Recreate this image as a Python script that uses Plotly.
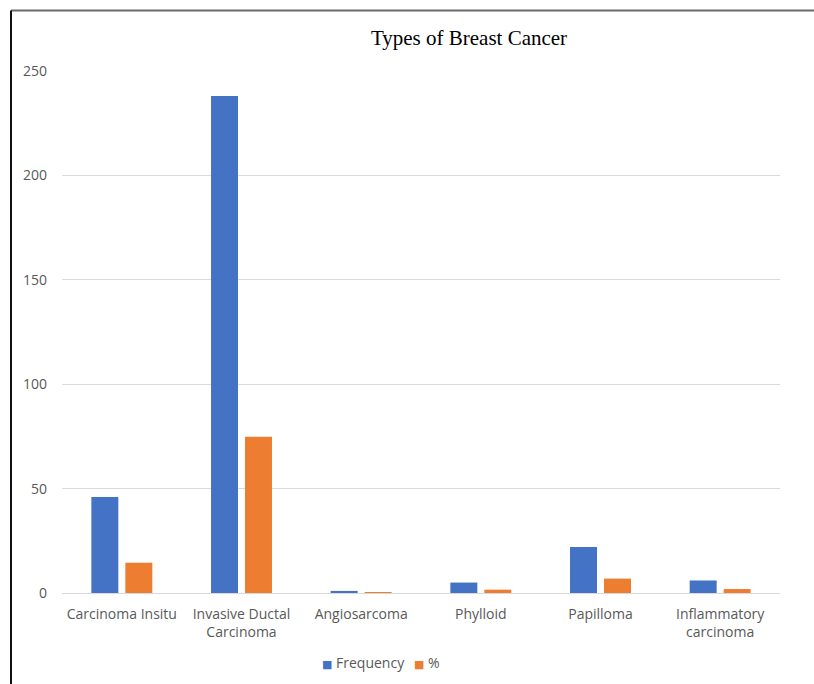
import plotly.graph_objects as go

categories = ["Carcinoma Insitu", "Invasive Ductal<br>Carcinoma", "Angiosarcoma",
              "Phylloid", "Papilloma", "Inflammatory<br>carcinoma"]
frequency = [46, 238, 1, 5, 22, 6]
percent = [14.5, 74.8, 0.3, 1.6, 6.9, 1.9]
y_ticks = [0, 50, 100, 150, 200, 250]
series_names = ["Frequency", "%"]
series_colors = ["#4472C4", "#ED7D31"]

L, R, T, B = 62, 780, 71, 593
W, H = 814, 684
pw, ph = R - L, B - T

def px_x(x):
    return (x - L) / pw

def px_y(y):
    return (B - y) / ph

fig = go.Figure()
for name, vals, col in zip(series_names, [frequency, percent], series_colors):
    fig.add_trace(go.Bar(x=categories, y=vals, name=name, showlegend=False,
                         marker=dict(color=col, line=dict(width=0))))

# legend drawn as text with coloured square glyphs
legend_x = [px_x(320), px_x(412)]
annotations = []
for name, col, lx in zip(series_names, series_colors, legend_x):
    annotations.append(dict(
        xref="paper", yref="paper", x=lx, y=px_y(662), xanchor="left", yanchor="middle",
        showarrow=False,
        text=f"<span style='color:{col};font-family:DejaVu Sans;font-size:11px'>■</span> {name}",
        font=dict(family="Open Sans", size=14, color="#595959")))

fig.update_layout(
    width=W, height=H,
    margin=dict(l=L, r=W - R, t=T, b=H - B, pad=0, autoexpand=False),
    paper_bgcolor="white", plot_bgcolor="white",
    barmode="group", bargap=0.432, bargroupgap=0.206,
    title=dict(text="Types of Breast Cancer", x=469 / W, xref="container", xanchor="center",
               y=1 - 38 / H, yref="container", yanchor="middle",
               font=dict(family="Liberation Serif", size=21, color="#000000")),
    font=dict(family="Open Sans", size=14, color="#595959"),
    showlegend=False,
    annotations=annotations,
    xaxis=dict(showgrid=False, showline=True, linecolor="#d9d9d9", linewidth=1,
               ticks="", ticklabelstandoff=8, tickfont=dict(size=14, color="#595959")),
    yaxis=dict(range=[0, 250], tickvals=y_ticks, showgrid=True, gridcolor="#d9d9d9",
               gridwidth=1, zeroline=False, showline=False, ticks="",
               ticklabelstandoff=14,
               tickfont=dict(size=14, color="#595959")),
    shapes=[
        dict(type="line", xref="paper", yref="paper", x0=px_x(11), x1=px_x(814),
             y0=px_y(10.5), y1=px_y(10.5), line=dict(color="#6b6b6b", width=2)),
        dict(type="line", xref="paper", yref="paper", x0=px_x(11), x1=px_x(11),
             y0=px_y(10.5), y1=px_y(690), line=dict(color="#111111", width=2)),
    ],
)

fig.write_html("out.html", config={"displayModeBar": False})
